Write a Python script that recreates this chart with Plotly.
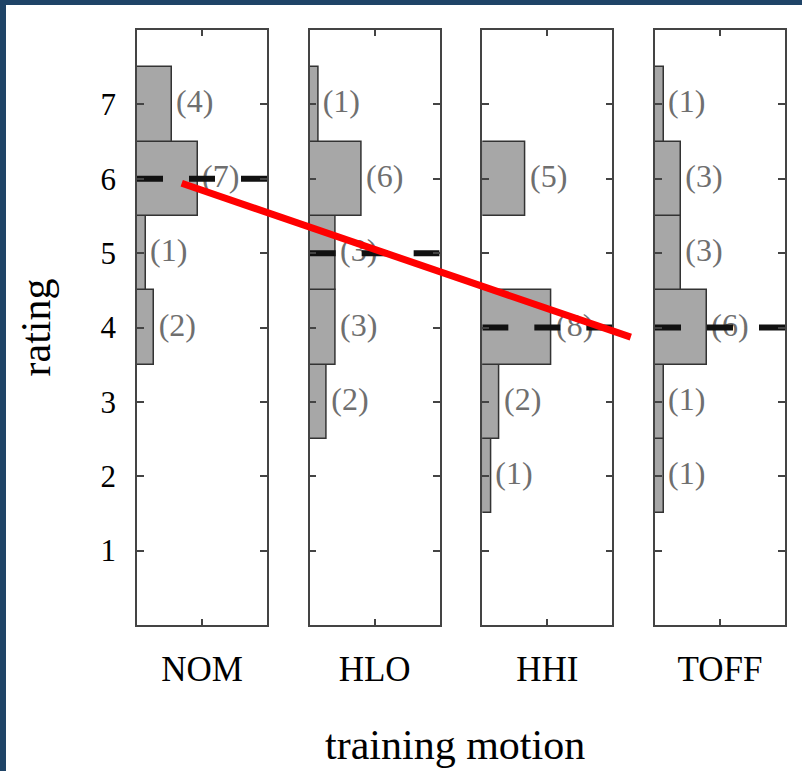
import plotly.graph_objects as go

# ---------------- data ----------------
motions = ["NOM", "HLO", "HHI", "TOFF"]
ratings = [1, 2, 3, 4, 5, 6, 7]
counts_nom = [0, 0, 0, 2, 1, 7, 4]
counts_hlo = [0, 0, 2, 3, 3, 6, 1]
counts_hhi = [0, 1, 2, 8, 0, 5, 0]
counts_toff = [0, 1, 1, 6, 3, 3, 1]
medians = [6, 5, 4, 4]
rating_ticks = [1, 2, 3, 4, 5, 6, 7]
trend_rating = [5.94, 3.87]          # red trend line end ratings
trend_x_paper = [0.069, 0.762]       # red trend line horizontal ends (paper)

all_counts = [counts_nom, counts_hlo, counts_hhi, counts_toff]

# ---------------- style ----------------
W, H = 802, 771
ML, MR, MT, MB = 137, 17, 30, 146
PW = W - ML - MR
PH = H - MT - MB
panel_w = 130.0
panel_step = (PW - panel_w) / 3.0
xmax = 15
SERIF = "Liberation Serif, Times New Roman, serif"
AXC = "#444444"
BAR_FILL = "#a7a7a7"
BAR_LINE = "#333333"
LABEL_C = "#6f6f6f"
FRAME = "#1f4467"

fig = go.Figure()
layout = {}

for i, (name, cnts, med) in enumerate(zip(motions, all_counts, medians)):
    k = "" if i == 0 else str(i + 1)
    xa, ya = "x" + k, "y" + k
    ys = [r for r, c in zip(ratings, cnts) if c > 0]
    xs = [c for c in cnts if c > 0]
    fig.add_trace(go.Bar(
        x=xs, y=ys, orientation="h", width=1.0, base=0,
        marker=dict(color=BAR_FILL, line=dict(color=BAR_LINE, width=1.5)),
        xaxis=xa, yaxis=ya, showlegend=False, hoverinfo="skip"))
    fig.add_trace(go.Scatter(
        x=[c + 0.5 for c in xs], y=ys, mode="text",
        text=[f"({c})" for c in xs], textposition="middle right",
        textfont=dict(family=SERIF, size=32, color=LABEL_C),
        xaxis=xa, yaxis=ya, showlegend=False, hoverinfo="skip"))
    fig.add_trace(go.Scatter(
        x=[0, xmax], y=[med, med], mode="lines",
        line=dict(color="#111111", width=6, dash="26px,26px"),
        xaxis=xa, yaxis=ya, showlegend=False, hoverinfo="skip"))

    d0 = (i * panel_step) / PW
    d1 = (i * panel_step + panel_w) / PW
    layout["xaxis" + k] = dict(
        domain=[d0, d1], range=[0, xmax], anchor=ya,
        showline=True, mirror="ticks", linecolor=AXC, linewidth=1.5,
        ticks="inside", ticklen=6, tickwidth=1.5, tickcolor=AXC,
        tickvals=[xmax / 2], ticktext=[name],
        tickfont=dict(family=SERIF, size=35, color="#000000"),
        ticklabelstandoff=12,
        showgrid=False, zeroline=False, fixedrange=True)
    layout["yaxis" + k] = dict(
        domain=[0, 1], range=[0, 8], anchor=xa,
        showline=True, mirror="ticks", linecolor=AXC, linewidth=1.5,
        ticks="inside", ticklen=7, tickwidth=1.5, tickcolor=AXC,
        tickvals=rating_ticks, showticklabels=(i == 0),
        tickfont=dict(family=SERIF, size=31, color="#000000"),
        ticklabelstandoff=13,
        showgrid=False, zeroline=False, fixedrange=True)

fig.update_layout(**layout)

shapes = [
    # white canvas inside the dark frame
    dict(type="rect", xref="paper", yref="paper", layer="below",
         x0=(6 - ML) / PW, x1=1.2, y0=-0.4, y1=(H - MB - 5) / PH,
         line=dict(width=0), fillcolor="#ffffff"),
    # red trend line
    dict(type="line", xref="paper", yref="y", layer="above",
         x0=trend_x_paper[0], x1=trend_x_paper[1],
         y0=trend_rating[0], y1=trend_rating[1],
         line=dict(color="#ff0000", width=7)),
]

annotations = [
    dict(text="rating", xref="paper", yref="paper",
         x=(35 - ML) / PW, y=0.5, xanchor="center", yanchor="middle",
         textangle=-90, showarrow=False,
         font=dict(family=SERIF, size=42, color="#000000")),
    dict(text="training motion", xref="paper", yref="paper",
         x=(455 - ML) / PW, y=-(745 - (H - MB)) / PH,
         xanchor="center", yanchor="middle", showarrow=False,
         font=dict(family=SERIF, size=42, color="#000000")),
]

fig.update_layout(
    width=W, height=H,
    margin=dict(l=ML, r=MR, t=MT, b=MB),
    paper_bgcolor=FRAME, plot_bgcolor="#ffffff",
    barmode="overlay", bargap=0,
    shapes=shapes, annotations=annotations,
    showlegend=False,
)

fig.write_html("out.html")
